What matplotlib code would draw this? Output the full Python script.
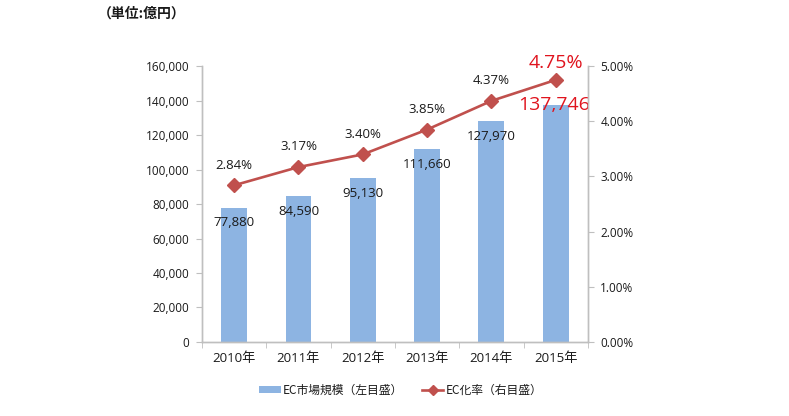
import matplotlib
matplotlib.use("Agg")
import matplotlib.pyplot as plt
from matplotlib.patches import Patch
from matplotlib.lines import Line2D
from matplotlib.ticker import FuncFormatter

plt.rcParams['font.family'] = ['Open Sans', 'Noto Sans CJK JP', 'DejaVu Sans']

years = ["2010年", "2011年", "2012年", "2013年", "2014年", "2015年"]
market = [77880, 84590, 95130, 111660, 127970, 137746]
rate = [2.84, 3.17, 3.40, 3.85, 4.37, 4.75]
market_labels = ["77,880", "84,590", "95,130", "111,660", "127,970", "137,746"]
rate_labels = ["2.84%", "3.17%", "3.40%", "3.85%", "4.37%", "4.75%"]

bar_color = "#8DB4E2"
line_color = "#C0504D"
hl_color = "#E0141E"
text_color = "#1A1A1A"
spine_color = "#BFBFBF"

fig = plt.figure(figsize=(7.89, 4.16), dpi=100)
ax = fig.add_axes([0.256, 0.178, 0.489, 0.663])
ax2 = ax.twinx()

x = list(range(len(years)))
ax.bar(x, market, width=0.4, color=bar_color, zorder=2)
ax.set_xlim(-0.5, len(years) - 0.5)
ax.set_ylim(0, 160000)
ax.set_yticks(range(0, 160001, 20000))
ax.yaxis.set_major_formatter(FuncFormatter(lambda v, p: f"{int(v):,}"))

ax2.plot(x, rate, color=line_color, lw=1.9, marker="D", markersize=7, zorder=3)
ax2.set_ylim(0, 5)
ax2.set_yticks([0, 1, 2, 3, 4, 5])
ax2.yaxis.set_major_formatter(FuncFormatter(lambda v, p: f"{v:.2f}%"))

ax.set_xticks(x)
ax.set_xticklabels(years, fontsize=9.5, color=text_color)
ax.set_xticks([i - 0.5 for i in range(len(years) + 1)], minor=True)
ax.tick_params(axis="x", which="major", length=0, pad=7)
ax.tick_params(axis="x", which="minor", length=4, color=spine_color)
ax.tick_params(axis="y", length=4, color=spine_color, labelsize=8.5, labelcolor=text_color, pad=5)
ax2.tick_params(axis="y", length=4, color=spine_color, labelsize=8.5, labelcolor=text_color, pad=5)

for a in (ax, ax2):
    a.spines["top"].set_visible(False)
    for s in ("left", "right", "bottom"):
        a.spines[s].set_color(spine_color)
        a.spines[s].set_linewidth(1.0)

n = len(years)
for i in range(n):
    if i < n - 1:
        ax.annotate(market_labels[i], (x[i], market[i]), xytext=(0, -11), textcoords="offset points",
                    ha="center", va="center", fontsize=9.5, color=text_color, zorder=5)
        ax2.annotate(rate_labels[i], (x[i], rate[i]), xytext=(0, 14.5), textcoords="offset points",
                     ha="center", va="center", fontsize=9.5, color=text_color, zorder=5)
    else:
        ax.annotate(market_labels[i], (x[i], market[i]), xytext=(-1, 0), textcoords="offset points",
                    ha="center", va="center", fontsize=14, color=hl_color, zorder=5)
        ax2.annotate(rate_labels[i], (x[i], rate[i]), xytext=(0, 12.5), textcoords="offset points",
                     ha="center", va="center", fontsize=14, color=hl_color, zorder=5)

fig.text(0.179, 0.968, "（単位:億円）", fontsize=10, fontweight="bold", color=text_color,
         ha="center", va="center", family=['Noto Sans CJK JP', 'DejaVu Sans'])

handles = [Patch(facecolor=bar_color, edgecolor="none"),
           Line2D([0], [0], color=line_color, lw=1.9, marker="D", markersize=5)]
fig.legend(handles, ["EC市場規模（左目盛）", "EC化率（右目盛）"], loc="center",
           bbox_to_anchor=(0.508, 0.062), ncol=2, frameon=False,
           prop={'family': ['Noto Sans CJK JP', 'DejaVu Sans'], 'size': 8.5},
           handlelength=1.8, handleheight=0.6, columnspacing=1.6, handletextpad=0.2,
           labelcolor=text_color)

fig.savefig("out.png", dpi=100, facecolor="white")
